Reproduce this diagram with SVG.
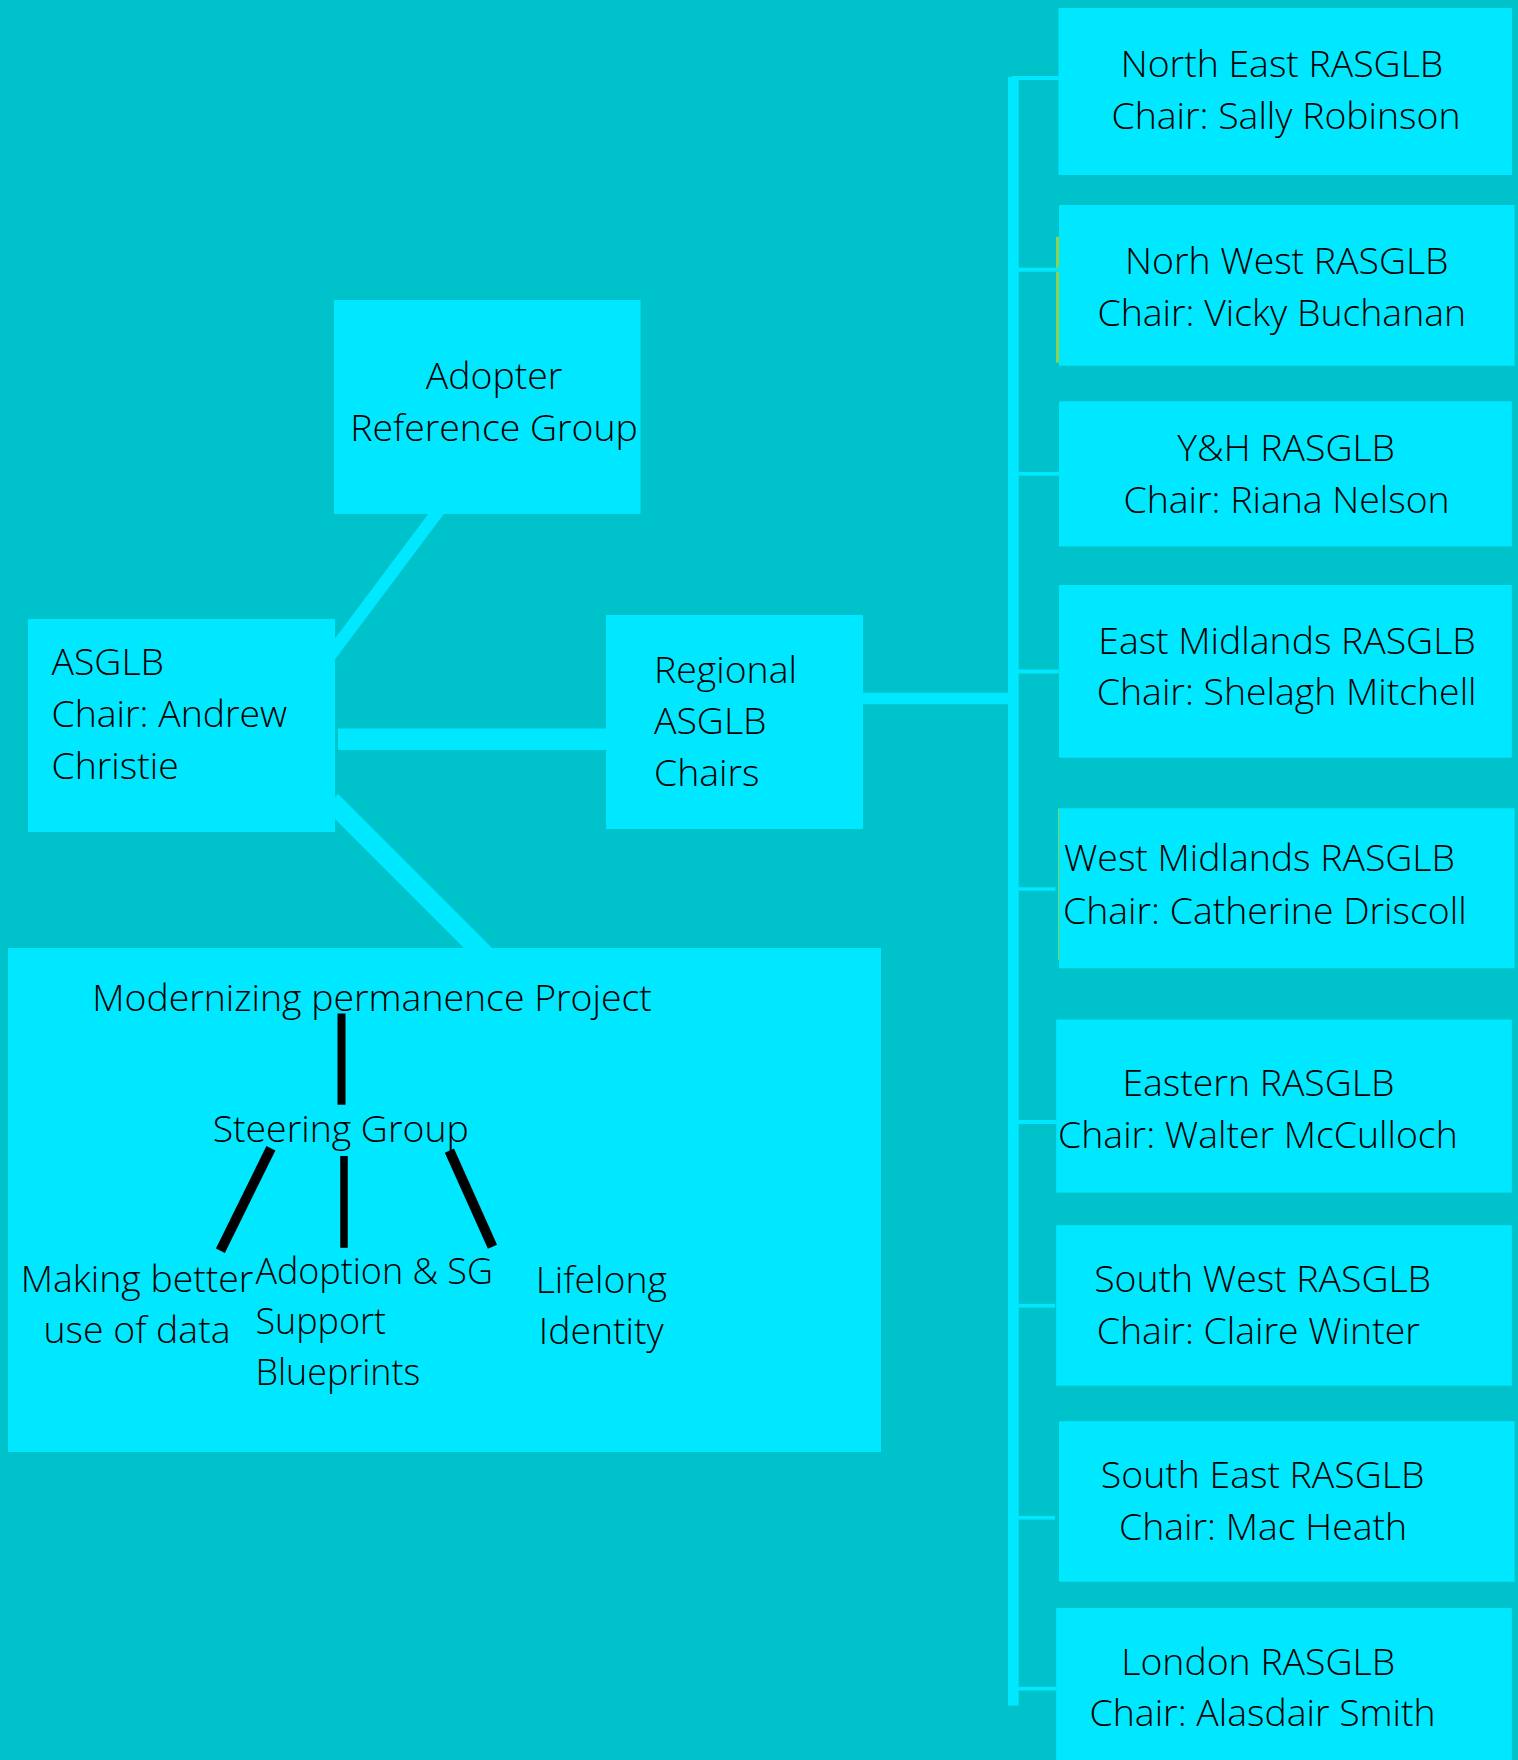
<svg xmlns="http://www.w3.org/2000/svg" width="1518" height="1760" viewBox="0 0 1518 1760">
<style>
.bg{fill:#00C2CB}
.box{fill:#00E8FF}
.con{fill:#00E8FF}
.cl{stroke:#00E8FF;fill:none;stroke-linecap:butt}
.bl{stroke:#000;fill:none;stroke-linecap:butt}
.olive{fill:#8FD14F}
text{font-family:"Open Sans","Noto Sans","DejaVu Sans",sans-serif;font-weight:300;font-size:37.4px;fill:#000}
.m{text-anchor:middle}
.s{font-size:35.9px}
</style>
<rect class="bg" x="0" y="0" width="1518" height="1760"/>
<g id="connectors">
  <line class="cl" x1="446.5" y1="500" x2="324.5" y2="663" stroke-width="12.5"/>
  <rect class="con" x="338" y="728.5" width="270" height="21.5"/>
  <line class="cl" x1="331" y1="801" x2="492" y2="962" stroke-width="20"/>
  <rect class="con" x="860" y="692.7" width="150" height="11.6"/>
  <rect class="con" x="1008" y="77" width="10.7" height="1628.5"/>
  <rect class="con" x="1012" y="76" width="47" height="4"/>
  <rect class="con" x="1018" y="267.7" width="41" height="4"/>
  <rect class="con" x="1018" y="472" width="41" height="3.7"/>
  <rect class="con" x="1018" y="669.5" width="41" height="4"/>
  <rect class="con" x="1018" y="887.3" width="37.5" height="3.4"/>
  <rect class="con" x="1018" y="1120" width="38.5" height="4"/>
  <rect class="con" x="1018" y="1303.9" width="37" height="3.7"/>
  <rect class="con" x="1018" y="1515.9" width="37" height="3.7"/>
  <rect class="con" x="1018" y="1686.8" width="38.5" height="3.7"/>
</g>
<g id="adopter-reference-group">
  <rect class="box" x="334" y="300" width="306.5" height="214"/>
  <text class="m" x="494" y="389">Adopter</text>
  <text class="m" x="494" y="441">Reference Group</text>
</g>
<g id="asglb">
  <rect class="box" x="28" y="619" width="307" height="213"/>
  <text x="51.5" y="675">ASGLB</text>
  <text x="51.5" y="727">Chair: Andrew</text>
  <text x="51.5" y="779">Christie</text>
</g>
<g id="regional-asglb-chairs">
  <rect class="box" x="606" y="615" width="257" height="214"/>
  <text x="654" y="683">Regional</text>
  <text x="654" y="734">ASGLB</text>
  <text x="654" y="786">Chairs</text>
</g>
<g id="modernizing-permanence-project">
  <rect class="box" x="8" y="948" width="873" height="504"/>
  <text class="m" x="372" y="1011">Modernizing permanence Project</text>
  <line class="bl" x1="341.5" y1="1013.6" x2="341.5" y2="1104.8" stroke-width="8"/>
  <text class="m" x="340.7" y="1141.5">Steering Group</text>
  <line class="bl" x1="270.9" y1="1148.3" x2="220.4" y2="1250.7" stroke-width="10"/>
  <line class="bl" x1="344" y1="1156" x2="344" y2="1247.8" stroke-width="7.5"/>
  <line class="bl" x1="449.4" y1="1150.6" x2="492.5" y2="1246.8" stroke-width="10"/>
  <text class="m" x="137" y="1292">Making better</text>
  <text class="m" x="137" y="1343">use of data</text>
  <text class="s" x="255.4" y="1284">Adoption &amp; SG</text>
  <text class="s" x="255.4" y="1334">Support</text>
  <text class="s" x="255.4" y="1384.5">Blueprints</text>
  <text class="m" x="601.3" y="1292.5">Lifelong</text>
  <text class="m" x="601.3" y="1344">Identity</text>
</g>
<g id="north-east">
  <rect class="box" x="1058.5" y="8" width="453.5" height="167"/>
  <text class="m" x="1282" y="76.8">North East RASGLB</text>
  <text class="m" x="1286" y="128.6">Chair: Sally Robinson</text>
</g>
<g id="north-west">
  <rect class="box" x="1059" y="205" width="455.6" height="160.7"/>
  <rect class="olive" x="1056" y="236.7" width="3" height="31"/>
  <rect class="olive" x="1056" y="271.7" width="3" height="91"/>
  <text class="m" x="1286.8" y="274.3">Norh West RASGLB</text>
  <text class="m" x="1281.8" y="325.7">Chair: Vicky Buchanan</text>
</g>
<g id="yorkshire-humber">
  <rect class="box" x="1059" y="401.4" width="452.8" height="145"/>
  <text class="m" x="1286.2" y="460.7">Y&amp;H RASGLB</text>
  <text class="m" x="1286.6" y="513.2">Chair: Riana Nelson</text>
</g>
<g id="east-midlands">
  <rect class="box" x="1059" y="585" width="452.8" height="172.7"/>
  <text class="m" x="1287" y="653.7">East Midlands RASGLB</text>
  <text class="m" x="1286.7" y="705.1">Chair: Shelagh Mitchell</text>
</g>
<g id="west-midlands">
  <rect class="box" x="1059" y="808.3" width="455.6" height="160"/>
  <rect class="olive" x="1058" y="808.3" width="1" height="151.7"/>
  <text x="1064" y="871.2">West Midlands RASGLB</text>
  <text x="1063" y="923.8">Chair: Catherine Driscoll</text>
</g>
<g id="eastern">
  <rect class="box" x="1056.2" y="1019.5" width="455.6" height="173.1"/>
  <text class="m" x="1258.4" y="1095.8">Eastern RASGLB</text>
  <text class="m" x="1257.9" y="1148">Chair: Walter McCulloch</text>
</g>
<g id="south-west">
  <rect class="box" x="1056.2" y="1225.1" width="455.6" height="160.6"/>
  <text class="m" x="1262.6" y="1292">South West RASGLB</text>
  <text class="m" x="1258.3" y="1343.9">Chair: Claire Winter</text>
</g>
<g id="south-east">
  <rect class="box" x="1059" y="1421.2" width="455.6" height="160.5"/>
  <text class="m" x="1262.6" y="1488.1">South East RASGLB</text>
  <text class="m" x="1263.1" y="1539.5">Chair: Mac Heath</text>
</g>
<g id="london">
  <rect class="box" x="1056.2" y="1608" width="455.6" height="152"/>
  <text class="m" x="1258.2" y="1675">London RASGLB</text>
  <text class="m" x="1262.6" y="1726.4">Chair: Alasdair Smith</text>
</g>
</svg>
